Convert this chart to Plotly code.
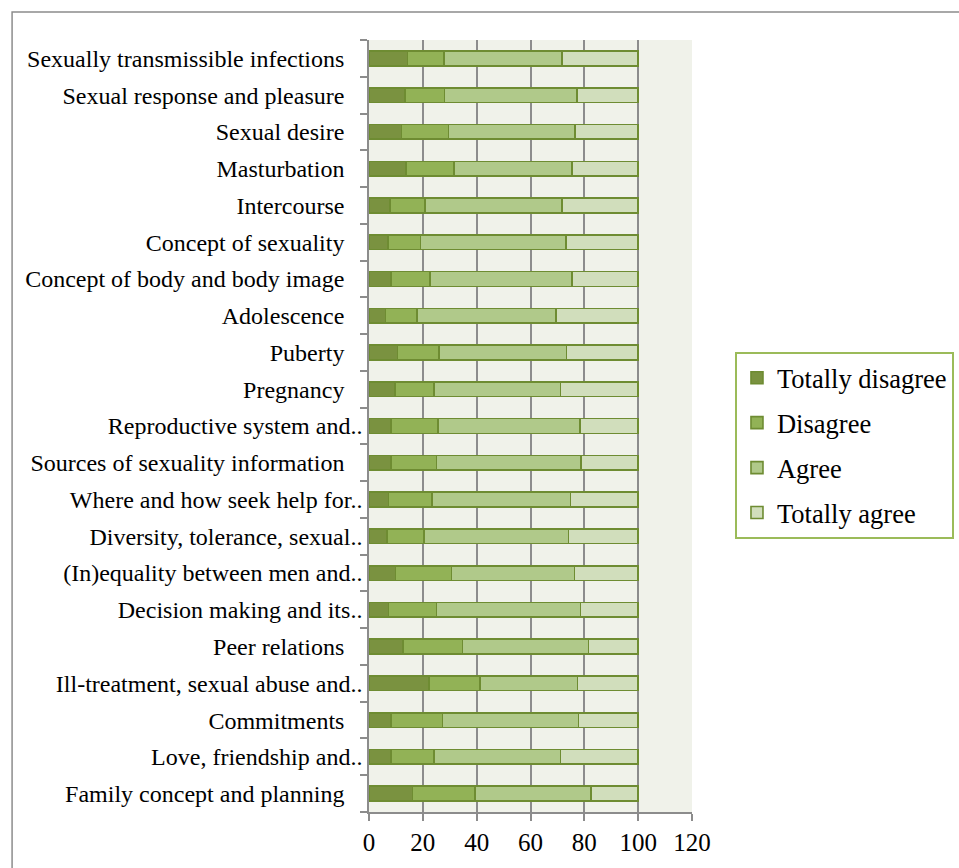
import plotly.graph_objects as go

# Topics, listed top to bottom
topics = [
    "Sexually transmissible infections",
    "Sexual response and pleasure",
    "Sexual desire",
    "Masturbation",
    "Intercourse",
    "Concept of sexuality",
    "Concept of body and body image",
    "Adolescence",
    "Puberty",
    "Pregnancy",
    "Reproductive system and..",
    "Sources of sexuality information",
    "Where and how seek help for..",
    "Diversity, tolerance, sexual..",
    "(In)equality between men and..",
    "Decision making and its..",
    "Peer relations",
    "Ill-treatment, sexual abuse and..",
    "Commitments",
    "Love, friendship and..",
    "Family concept and planning",
]

# Percentage of answers per topic
totally_disagree = [14.3, 13.3, 12.0, 13.8, 7.7, 7.1, 8.2, 6.1, 10.6, 9.6, 8.2,
                    8.1, 7.2, 6.7, 9.9, 7.2, 12.7, 22.2, 8.1, 8.1, 16.1]
disagree = [13.5, 14.7, 17.5, 17.8, 13.0, 12.1, 14.4, 11.8, 15.5, 14.5, 17.5,
            17.0, 16.2, 13.8, 20.8, 17.9, 22.1, 19.0, 19.2, 16.0, 23.3]
agree = [44.0, 49.2, 47.1, 43.9, 51.1, 54.0, 52.8, 51.5, 47.2, 47.0, 52.7,
         53.7, 51.4, 53.6, 45.7, 53.4, 46.7, 36.2, 50.5, 47.0, 43.1]
totally_agree = [28.2, 22.8, 23.4, 24.5, 28.2, 26.8, 24.6, 30.6, 26.7, 28.9, 21.6,
                 21.2, 25.2, 25.9, 23.6, 21.5, 18.5, 22.6, 22.2, 28.9, 17.5]

x_ticks = [0, 20, 40, 60, 80, 100, 120]

series = [
    ("Totally disagree", totally_disagree, "#7A9240"),
    ("Disagree", disagree, "#92B256"),
    ("Agree", agree, "#B0C98A"),
    ("Totally agree", totally_agree, "#D1DEBC"),
]

# Full labels get a little trailing room, as the shortened ones run up to the ticks
tick_text = [t if t.endswith("..") else t + "\u00a0\u00a0\u00a0" for t in topics]

fig = go.Figure()
for name, vals, color in series:
    fig.add_trace(go.Bar(
        y=topics, x=vals, name=name, orientation="h",
        legendgroup=name,
        marker=dict(color=color, line=dict(color="#6E8C32", width=1.6)),
    ))

serif = "Liberation Serif, Times New Roman, serif"

fig.update_layout(
    template="none",
    width=959, height=868,
    barmode="stack", bargap=0.6,
    paper_bgcolor="white", plot_bgcolor="#F0F2EA",
    margin=dict(l=369, r=267, t=40, b=56, autoexpand=False),
    font=dict(family=serif, color="black"),
    showlegend=True,
    legend=dict(
        xref="container", yref="container",
        x=0.7664, y=0.5945, xanchor="left", yanchor="top",
        bgcolor="white", bordercolor="#9BBB59", borderwidth=2,
        font=dict(family=serif, size=26.5, color="black"),
        traceorder="grouped", tracegroupgap=7.5, itemwidth=30,
    ),
    xaxis=dict(
        range=[0, 120], tickvals=x_ticks, ticktext=[str(v) for v in x_ticks],
        showgrid=True, gridcolor="#8C8C8C", gridwidth=1.6,
        showline=True, linecolor="#8C8C8C", linewidth=1.6,
        ticks="outside", ticklen=7, tickcolor="#8C8C8C", tickwidth=1.6,
        tickfont=dict(family=serif, size=25, color="black"),
        zeroline=False, fixedrange=True, automargin=False,
    ),
    yaxis=dict(
        categoryorder="array", categoryarray=topics, autorange="reversed",
        tickvals=topics, ticktext=tick_text,
        showline=True, linecolor="#8C8C8C", linewidth=1.6,
        ticks="outside", ticklen=7, tickcolor="#8C8C8C", tickwidth=1.6,
        tickson="boundaries",
        tickfont=dict(family=serif, size=24, color="black"),
        showgrid=False, zeroline=False, fixedrange=True, automargin=False,
    ),
    shapes=[dict(
        type="rect", xref="paper", yref="paper",
        x0=-1.105, x1=2.0, y0=-0.2, y1=1.0363,
        line=dict(color="#8C8C8C", width=1.5), fillcolor="rgba(0,0,0,0)",
        layer="above",
    )],
)

fig.write_html("out.html")
